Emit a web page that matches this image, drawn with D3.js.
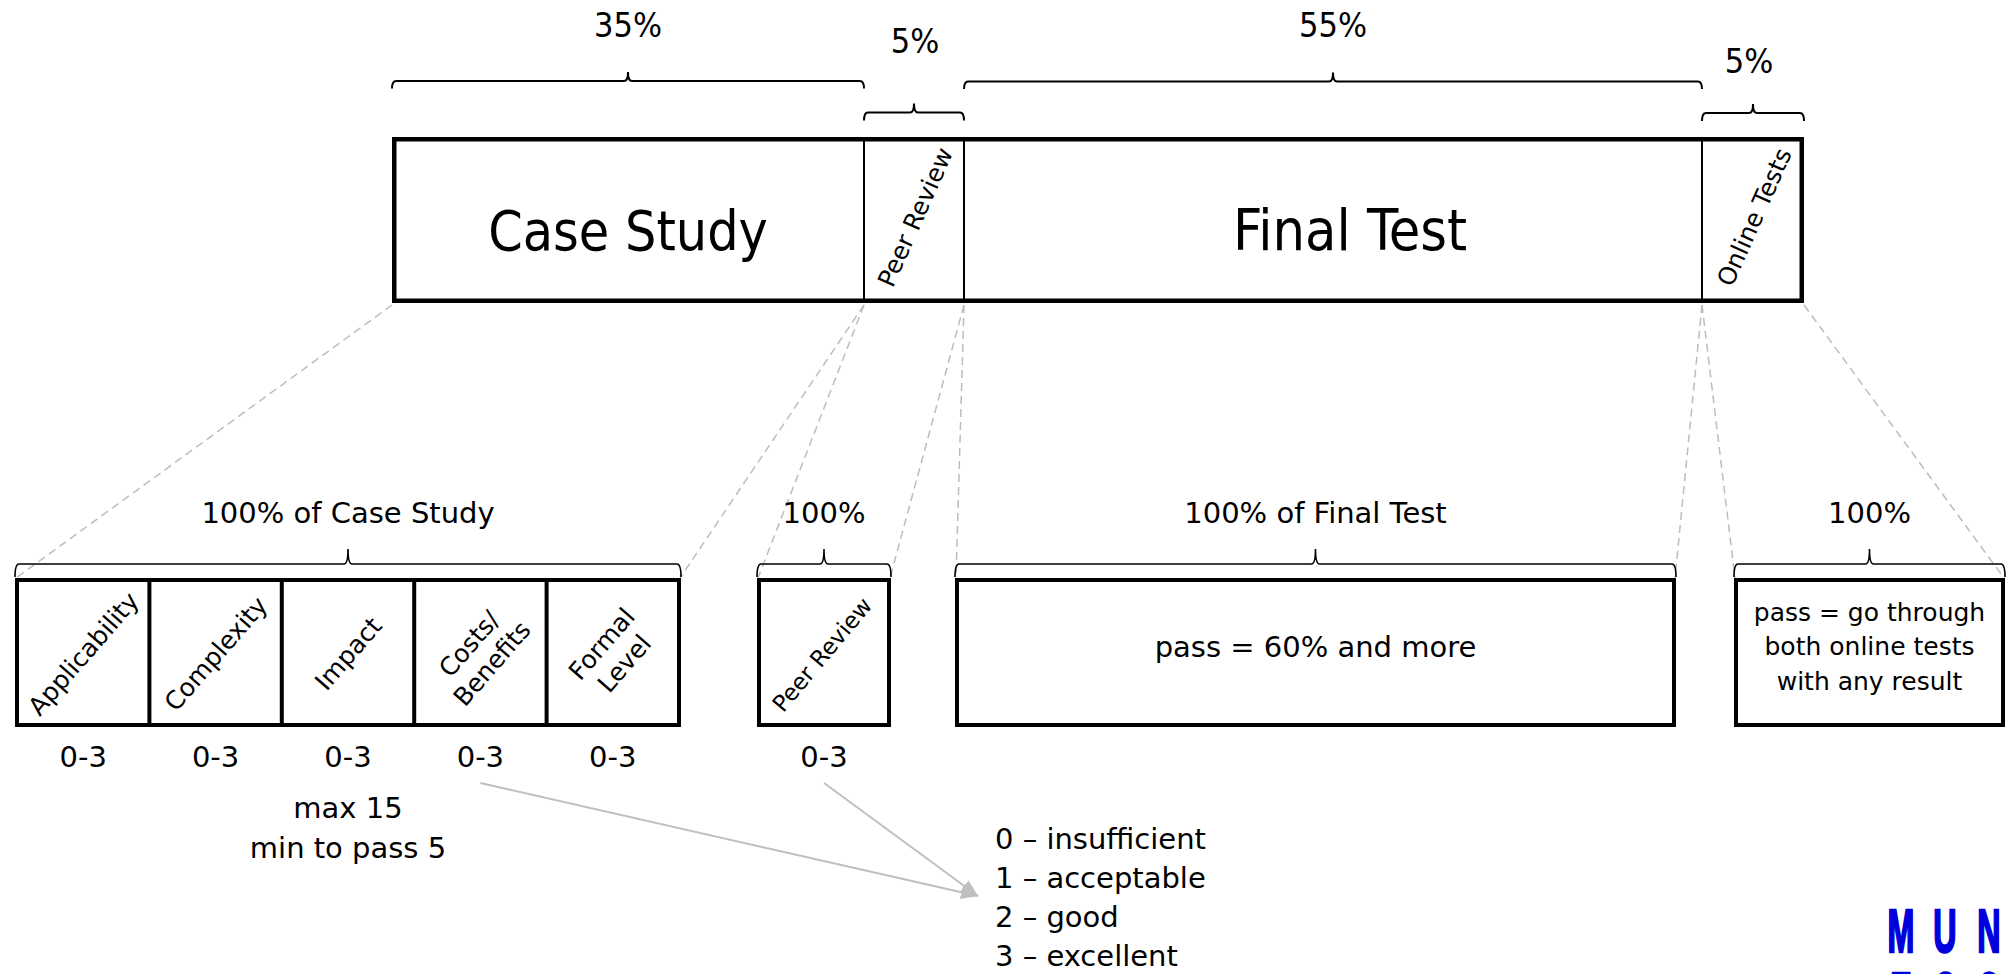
<!DOCTYPE html>
<html><head><meta charset="utf-8">
<script src="https://cdn.jsdelivr.net/npm/d3@7"></script>
<style>
html,body{margin:0;padding:0;background:#fff;overflow:hidden}
svg{display:block}
text{font-family:"DejaVu Sans",Verdana,sans-serif;fill:#000}
</style></head><body>
<svg id="chart" width="2014" height="974"></svg>
<script>
// ---------- data ----------
const components = ["Case Study", "Peer Review", "Final Test", "Online Tests"];
const weights = ["35%", "5%", "55%", "5%"];
const detailTitles = ["100% of Case Study", "100%", "100% of Final Test", "100%"];
const criteria = [["Applicability"], ["Complexity"], ["Impact"], ["Costs/", "Benefits"], ["Formal", "Level"]];
const criteriaScores = ["0-3", "0-3", "0-3", "0-3", "0-3"];
const peerLabel = ["Peer Review"];
const peerScore = "0-3";
const caseStudyRule = ["max 15", "min to pass 5"];
const finalTestRule = ["pass = 60% and more"];
const onlineRule = ["pass = go through", "both online tests", "with any result"];
const gradeScale = ["0 \u2013 insufficient", "1 \u2013 acceptable", "2 \u2013 good", "3 \u2013 excellent"];
const logoRows = ["MUNI", "ECON"];

// ---------- layout ----------
const L = {
  topEdges: [392, 864, 964, 1702, 1804],
  topY0: 137, topY1: 303,
  topBraceY: [81, 112.5, 81.5, 113],
  topLabelBase: [37, 53, 37, 73],
  topLabelDx: [0, 1, 0, -4],
  groupEdges: [[15, 681], [757, 891], [955, 1676], [1734, 2005]],
  boxY0: 578, boxY1: 727,
  bottomBraceY: 564,
  bottomTitleBase: 523,
  connectorTopY: 305,
  scoreBase: 767,
  ruleBase: 818, ruleStep: 40,
  legendX: 995, legendBase: 849, legendStep: 39,
  arrowStartY: 783, arrowTip: [978, 896],
  logoX: 1901, logoStep: 44, logoBase: 952, logoRowStep: 63
};

const svg = d3.select("#chart");
const xTop = d3.scaleLinear().domain(d3.range(components.length + 1)).range(L.topEdges);

function brace(x0, x1, y, d, h, r) {
  r = r || 4;
  const xm = (x0 + x1) / 2;
  return `M${x0},${y + d} Q${x0},${y} ${x0 + r},${y} L${xm - r},${y} Q${xm},${y} ${xm},${y - h}` +
         ` Q${xm},${y} ${xm + r},${y} L${x1 - r},${y} Q${x1},${y} ${x1},${y + d}`;
}

// ---------- connectors (dashed) ----------
const conn = svg.append("g").attr("stroke", "#bdbdbd").attr("stroke-width", 1.5)
  .attr("stroke-dasharray", "8,5").attr("fill", "none");
components.forEach((c, i) => {
  const g = L.groupEdges[i];
  conn.append("line").attr("x1", xTop(i)).attr("y1", L.connectorTopY).attr("x2", g[0] + 1).attr("y2", L.boxY0);
  conn.append("line").attr("x1", xTop(i + 1)).attr("y1", L.connectorTopY).attr("x2", g[1] - 1).attr("y2", L.boxY0);
});

// ---------- top bar ----------
const topG = svg.append("g");
topG.append("rect")
  .attr("x", xTop(0) + 2.25).attr("y", L.topY0 + 2.25)
  .attr("width", xTop(components.length) - xTop(0) - 4.5)
  .attr("height", L.topY1 - L.topY0 - 4.5)
  .attr("fill", "none").attr("stroke", "#000").attr("stroke-width", 4.5);
d3.range(1, components.length).forEach(i => {
  topG.append("line").attr("x1", xTop(i)).attr("x2", xTop(i))
    .attr("y1", L.topY0 + 2).attr("y2", L.topY1 - 2)
    .attr("stroke", "#000").attr("stroke-width", 2);
});

components.forEach((c, i) => {
  const x0 = xTop(i), x1 = xTop(i + 1), cx = (x0 + x1) / 2;
  const cy = (L.topY0 + L.topY1) / 2;
  const big = x1 - x0 > 200;
  if (big) {
    topG.append("text").attr("x", cx + (i === 2 ? 17 : 0)).attr("y", 250)
      .attr("text-anchor", "middle").style("font-size", i === 2 ? "57px" : "55px").style("font-stretch", "condensed")
      .text(c);
  } else {
    topG.append("g").attr("transform", `translate(${cx + 1},${cy - 3}) rotate(-66)`)
      .append("text").attr("text-anchor", "middle").attr("dy", "0.36em")
      .style("font-size", "24.5px")
      .text(c);
  }
  topG.append("path").attr("d", brace(x0, x1, L.topBraceY[i], big ? 7.5 : 8, 9, 4))
    .attr("fill", "none").attr("stroke", "#000").attr("stroke-width", 2);
  topG.append("text").attr("x", cx + L.topLabelDx[i]).attr("y", L.topLabelBase[i])
    .attr("text-anchor", "middle").style("font-size", "34px").style("font-stretch", "condensed")
    .text(weights[i]);
});

// ---------- bottom groups ----------
const bot = svg.append("g");
L.groupEdges.forEach((g, i) => {
  bot.append("rect").attr("x", g[0] + 2).attr("y", L.boxY0 + 2)
    .attr("width", g[1] - g[0] - 4).attr("height", L.boxY1 - L.boxY0 - 4)
    .attr("fill", "none").attr("stroke", "#000").attr("stroke-width", 4);
  bot.append("path").attr("d", brace(g[0], g[1], L.bottomBraceY, 13, 15, 4))
    .attr("fill", "none").attr("stroke", "#000").attr("stroke-width", 1.6);
  bot.append("text").attr("x", (g[0] + g[1]) / 2).attr("y", L.bottomTitleBase)
    .attr("text-anchor", "middle").style("font-size", "29px").text(detailTitles[i]);
});

// case study criteria
const cs = L.groupEdges[0];
const band = d3.scaleBand().domain(d3.range(criteria.length)).range([cs[0] + 2, cs[1] - 2]);
const boxCy = (L.boxY0 + L.boxY1) / 2;
criteria.forEach((lines, i) => {
  if (i > 0) bot.append("line").attr("x1", band(i)).attr("x2", band(i))
    .attr("y1", L.boxY0 + 2).attr("y2", L.boxY1 - 2).attr("stroke", "#000").attr("stroke-width", 4);
  const cx = band(i) + band.bandwidth() / 2;
  const t = bot.append("g").attr("transform", `translate(${cx},${boxCy + 1}) rotate(-49)`)
    .append("text").attr("text-anchor", "middle").style("font-size", "25px");
  lines.forEach((ln, j) => {
    t.append("tspan").attr("x", 0)
      .attr("y", (j - (lines.length - 1) / 2) * 30 + 9).text(ln);
  });
  bot.append("text").attr("x", cx).attr("y", L.scoreBase).attr("text-anchor", "middle")
    .style("font-size", "29px").text(criteriaScores[i]);
});

// peer review box
const pr = L.groupEdges[1];
const prCx = (pr[0] + pr[1]) / 2;
bot.append("g").attr("transform", `translate(${prCx - 2},${boxCy + 2}) rotate(-50)`)
  .append("text").attr("text-anchor", "middle").attr("dy", "0.36em")
  .style("font-size", "23px").text(peerLabel[0]);
bot.append("text").attr("x", prCx).attr("y", L.scoreBase).attr("text-anchor", "middle")
  .style("font-size", "29px").text(peerScore);

// final test box
const ft = L.groupEdges[2];
finalTestRule.forEach(t => {
  bot.append("text").attr("x", (ft[0] + ft[1]) / 2).attr("y", 656.5).attr("text-anchor", "middle")
    .style("font-size", "29px").text(t);
});

// online tests box
const ot = L.groupEdges[3];
onlineRule.forEach((t, j) => {
  bot.append("text").attr("x", (ot[0] + ot[1]) / 2).attr("y", 620.5 + j * 34.5).attr("text-anchor", "middle")
    .style("font-size", "25px").text(t);
});

// case study rule
caseStudyRule.forEach((t, j) => {
  bot.append("text").attr("x", (cs[0] + cs[1]) / 2).attr("y", L.ruleBase + j * L.ruleStep)
    .attr("text-anchor", "middle").style("font-size", "29px").text(t);
});

// grade scale legend
gradeScale.forEach((t, j) => {
  bot.append("text").attr("x", L.legendX).attr("y", L.legendBase + j * L.legendStep)
    .style("font-size", "29px").text(t);
});

// arrows
const defs = svg.append("defs");
defs.append("marker").attr("id", "ah").attr("markerUnits", "userSpaceOnUse")
  .attr("markerWidth", 18).attr("markerHeight", 14).attr("refX", 17).attr("refY", 7)
  .attr("orient", "auto")
  .append("path").attr("d", "M0,0 L17,7 L0,14 Z").attr("fill", "#bfbfbf");
const arrowStarts = [band(3) + band.bandwidth() / 2, prCx];
arrowStarts.forEach(x => {
  svg.append("line").attr("x1", x).attr("y1", L.arrowStartY)
    .attr("x2", L.arrowTip[0]).attr("y2", L.arrowTip[1])
    .attr("stroke", "#bfbfbf").attr("stroke-width", 2).attr("marker-end", "url(#ah)");
});

// logo
const logo = svg.append("g");
logoRows.forEach((row, r) => {
  row.split("").forEach((ch, k) => {
    logo.append("g")
      .attr("transform", `translate(${L.logoX + k * L.logoStep},${L.logoBase + r * L.logoRowStep}) scale(0.52,1)`)
      .append("text").attr("text-anchor", "middle")
      .style("font-family", "'Liberation Sans', Arial, sans-serif").style("font-weight", "bold")
      .style("font-size", "62px").style("fill", "#0000dc")
      .attr("stroke", "#0000dc").attr("stroke-width", 2.5)
      .text(ch);
  });
});
</script>
</body></html>
